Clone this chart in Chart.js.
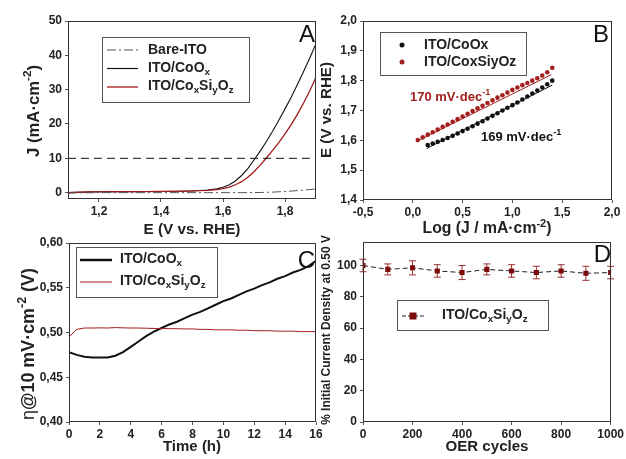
<!DOCTYPE html>
<html>
<head>
<meta charset="utf-8">
<script src="https://cdn.jsdelivr.net/npm/chart.js@4.4.0/dist/chart.umd.min.js"></script>
<style>
  html, body { margin: 0; padding: 0; background: #fff; }
  #wrap { position: relative; width: 626px; height: 459px; }
  #wrap canvas { position: absolute; left: 0; top: 0; }
</style>
</head>
<body>
<div id="wrap">
  <canvas id="chartA" width="626" height="459"></canvas>
  <canvas id="chartB" width="626" height="459"></canvas>
  <canvas id="chartC" width="626" height="459"></canvas>
  <canvas id="chartD" width="626" height="459"></canvas>
</div>
<script>
// ---- Panel A: polarisation curves (J vs E) ----
const potentialE = [1.10, 1.15, 1.20, 1.25, 1.30, 1.35, 1.40, 1.45, 1.50, 1.55, 1.58, 1.60, 1.62, 1.64,
  1.66, 1.68, 1.70, 1.72, 1.74, 1.76, 1.78, 1.80, 1.82, 1.84, 1.86, 1.88, 1.90];
const jCoOx = [0.0, 0.15, 0.25, 0.28, 0.3, 0.32, 0.35, 0.4, 0.5, 0.75, 1.1, 1.6, 2.3, 3.4,
  5.0, 7.0, 9.5, 12.1, 14.9, 17.9, 21.1, 24.4, 27.8, 31.5, 35.3, 39.2, 43.4];
const jCoSiO = [0.0, 0.15, 0.25, 0.28, 0.3, 0.32, 0.35, 0.4, 0.5, 0.65, 0.9, 1.2, 1.6, 2.3,
  3.2, 4.5, 6.1, 8.0, 10.1, 12.3, 14.6, 17.1, 19.8, 22.8, 26.1, 29.7, 33.6];
const jBareITO = [-0.1, -0.05, 0, 0, 0, 0, 0, 0, 0, 0, 0, 0, 0, 0,
  0, 0.01, 0.02, 0.05, 0.1, 0.15, 0.25, 0.35, 0.45, 0.6, 0.75, 0.9, 1.05];
const jRef = 10;
const aXTicks = [1.2, 1.4, 1.6, 1.8];
const aYTicks = [0, 10, 20, 30, 40, 50];

// ---- Panel B: Tafel plots ----
const logJCoOx = [0.15, 0.20, 0.25, 0.30, 0.35, 0.40, 0.45, 0.50, 0.55, 0.60, 0.65, 0.70, 0.75,
  0.80, 0.85, 0.90, 0.95, 1.00, 1.05, 1.10, 1.15, 1.20, 1.25, 1.30, 1.35, 1.40];
const eCoOx = [1.584, 1.589, 1.595, 1.601, 1.608, 1.615, 1.623, 1.631, 1.639, 1.647, 1.656, 1.664, 1.673,
  1.682, 1.691, 1.700, 1.709, 1.718, 1.727, 1.737, 1.747, 1.757, 1.767, 1.777, 1.788, 1.800];
const logJCoSiO = [0.05, 0.10, 0.15, 0.20, 0.25, 0.30, 0.35, 0.40, 0.45, 0.50, 0.55, 0.60, 0.65, 0.70,
  0.75, 0.80, 0.85, 0.90, 0.95, 1.00, 1.05, 1.10, 1.15, 1.20, 1.25, 1.30, 1.35, 1.40];
const eCoSiO = [1.601, 1.610, 1.619, 1.627, 1.636, 1.645, 1.653, 1.662, 1.671, 1.680, 1.689, 1.698, 1.707, 1.716,
  1.725, 1.734, 1.743, 1.751, 1.760, 1.769, 1.777, 1.785, 1.792, 1.800, 1.808, 1.817, 1.828, 1.843];
const fitLogJCoOx = [0.14, 1.40];
const fitECoOx = [1.573, 1.785];
const fitLogJCoSiO = [0.03, 1.39];
const fitECoSiO = [1.595, 1.820];
const bXTicks = [-0.5, 0, 0.5, 1.0, 1.5, 2.0];
const bYTicks = [1.4, 1.5, 1.6, 1.7, 1.8, 1.9, 2.0];

// ---- Panel C: chronopotentiometry ----
const timeH = [0, 0.5, 1, 1.5, 2, 2.5, 3, 3.5, 4, 4.5, 5, 5.5, 6, 6.5, 7, 7.5, 8,
  8.5, 9, 9.5, 10, 10.5, 11, 11.5, 12, 12.5, 13, 13.5, 14, 14.5, 15, 15.5, 16];
const etaCoOx = [0.478, 0.475, 0.473, 0.472, 0.472, 0.472, 0.474, 0.478, 0.484, 0.490, 0.496, 0.501, 0.505,
  0.509, 0.512, 0.516, 0.520, 0.523, 0.527, 0.531, 0.535, 0.538, 0.542, 0.546, 0.549, 0.553,
  0.556, 0.560, 0.563, 0.567, 0.570, 0.574, 0.580];
const etaCoSiO = [0.495, 0.5035, 0.505, 0.505, 0.5052, 0.505, 0.5055, 0.5052, 0.505, 0.505, 0.5048, 0.5045, 0.5045,
  0.5043, 0.5042, 0.504, 0.504, 0.5035, 0.5035, 0.503, 0.503, 0.503, 0.5025, 0.5025, 0.502, 0.502,
  0.502, 0.5015, 0.5015, 0.5015, 0.501, 0.501, 0.501];
const cXTicks = [0, 2, 4, 6, 8, 10, 12, 14, 16];
const cYTicks = [0.40, 0.45, 0.50, 0.55, 0.60];

// ---- Panel D: stability over OER cycles ----
const oerCycles = [0, 100, 200, 300, 400, 500, 600, 700, 800, 900, 1000];
const retention = [100, 97.5, 98.5, 96.5, 95.5, 97.5, 96.5, 95.5, 96.5, 95, 95.5];
const retentionErr = [4, 3.5, 4.5, 4, 4.5, 3.5, 4, 4, 4, 4.5, 4];
const dXTicks = [0, 200, 400, 600, 800, 1000];
const dYTicks = [0, 20, 40, 60, 80, 100];

const FONT = '"Liberation Sans", Arial, sans-serif';
const RED = '#a01c1c';

const pts = (xs, ys) => xs.map((x, i) => ({ x, y: ys[i] }));
const comma = d => v => v.toFixed(d).replace('.', ',');

// linear axis with fixed tick list and fixed thickness
function axis(pos, min, max, vals, fmt, size) {
  return {
    type: 'linear', position: pos, min, max,
    afterBuildTicks: s => { s.ticks = vals.map(v => ({ value: v })); },
    afterFit: s => { if (pos === 'left') s.width = size; else s.height = size; },
    border: { display: false },
    grid: { display: true, drawOnChartArea: false, drawTicks: true, tickLength: 3, color: '#555' },
    ticks: {
      callback: v => fmt(v), color: '#222', padding: pos === 'left' ? 3 : 2, maxRotation: 0, autoSkip: false,
      font: { family: FONT, size: 12, weight: 'bold' }
    }
  };
}

// text with sub/superscripts: parts = [[text, shift, weight?]], shift 1 = sup, -1 = sub
// opt.fit squeezes the font size so the whole string has that length
function rich(ctx, parts, x, y, size, opt = {}) {
  const fnt = (s, wt) => `${wt || opt.weight || 'bold'} ${s}px ${FONT}`;
  const measure = sz => {
    let w = 0;
    parts.forEach(([t, sh, wt]) => { ctx.font = fnt(sh ? sz * 0.7 : sz, wt); w += ctx.measureText(t).width; });
    return w;
  };
  let w = measure(size);
  if (opt.fit) { size = size * opt.fit / w; w = measure(size); }
  ctx.save();
  ctx.fillStyle = opt.color || '#222';
  ctx.textBaseline = 'middle';
  ctx.textAlign = 'left';
  let cx = opt.align === 'left' ? x : x - w / 2;
  let cy = y;
  if (opt.rotate) {
    ctx.translate(x, y);
    ctx.rotate(-Math.PI / 2);
    cx = -w / 2; cy = 0;
  }
  parts.forEach(([t, sh, wt]) => {
    ctx.font = fnt(sh ? size * 0.7 : size, wt);
    const off = sh > 0 ? -size * 0.35 : (sh < 0 ? size * 0.3 : 0);
    ctx.fillText(t, cx, cy + off);
    cx += ctx.measureText(t).width;
  });
  ctx.restore();
}

function frame(chart) {
  const { ctx, chartArea: a } = chart;
  ctx.save();
  ctx.strokeStyle = '#333';
  ctx.lineWidth = 1;
  ctx.strokeRect(Math.round(a.left) + 0.5, Math.round(a.top) + 0.5, Math.round(a.width) - 1, Math.round(a.height) - 1);
  ctx.restore();
}

function panelLetter(ctx, ch, right, base) {
  ctx.save();
  ctx.font = `24px ${FONT}`;
  ctx.fillStyle = '#111';
  ctx.textAlign = 'right';
  ctx.textBaseline = 'alphabetic';
  ctx.fillText(ch, right, base);
  ctx.restore();
}

function box(ctx, x, y, w, h) {
  ctx.save();
  ctx.strokeStyle = '#555';
  ctx.lineWidth = 1;
  ctx.strokeRect(x + 0.5, y + 0.5, w, h);
  ctx.restore();
}

function sample(ctx, x1, x2, y, color, width, dash) {
  ctx.save();
  ctx.strokeStyle = color;
  ctx.lineWidth = width;
  ctx.setLineDash(dash || []);
  ctx.beginPath();
  ctx.moveTo(x1, y); ctx.lineTo(x2, y);
  ctx.stroke();
  ctx.restore();
}

const CO_OX = [['ITO/CoO', 0], ['x', -1]];
const CO_SI_O = [['ITO/Co', 0], ['x', -1], ['Si', 0], ['y', -1], ['O', 0], ['z', -1]];

function baseOptions(pad) {
  return {
    responsive: false,
    animation: false,
    layout: { padding: pad },
    plugins: { legend: { display: false }, tooltip: { enabled: false } },
    elements: { line: { tension: 0 } }
  };
}

// ---------- Panel A ----------
new Chart(document.getElementById('chartA'), {
  type: 'scatter',
  data: {
    datasets: [
      { data: [{ x: 1.1, y: jRef }, { x: 1.9, y: jRef }], showLine: true, borderColor: '#111', borderWidth: 1, borderDash: [8, 5], pointRadius: 0 },
      { data: pts(potentialE, jBareITO), showLine: true, borderColor: '#555', borderWidth: 1, borderDash: [9, 3, 2, 3], pointRadius: 0 },
      { data: pts(potentialE, jCoSiO), showLine: true, borderColor: RED, borderWidth: 1.3, pointRadius: 0 },
      { data: pts(potentialE, jCoOx), showLine: true, borderColor: '#111', borderWidth: 1.1, pointRadius: 0 }
    ]
  },
  options: Object.assign(baseOptions({ left: 28, top: 21, right: 310, bottom: 230 }), {
    scales: {
      x: axis('bottom', 1.1, 1.9, aXTicks, comma(1), 30),
      y: axis('left', -1.85, 50, aYTicks, v => String(v), 40)
    }
  }),
  plugins: [{
    id: 'decorA',
    afterDraw(chart) {
      const ctx = chart.ctx;
      frame(chart);
      panelLetter(ctx, 'A', 315, 42);
      box(ctx, 102, 37, 147, 65);
      sample(ctx, 107, 138, 50, '#555', 1, [9, 3, 2, 3]);
      sample(ctx, 107, 138, 68.5, '#111', 1.2);
      sample(ctx, 107, 138, 87, RED, 1.3);
      rich(ctx, [['Bare-ITO', 0]], 148, 50, 14, { align: 'left' });
      rich(ctx, CO_OX, 148, 68, 14, { align: 'left' });
      rich(ctx, CO_SI_O, 148, 86, 14, { align: 'left' });
      rich(ctx, [['J (mA·cm', 0], ['-2', 1], [')', 0]], 34, 111, 15, { rotate: true, fit: 92 });
      rich(ctx, [['E (V vs. RHE)', 0]], 192, 230, 15, { fit: 97 });
    }
  }]
});

// ---------- Panel B ----------
new Chart(document.getElementById('chartB'), {
  type: 'scatter',
  data: {
    datasets: [
      { data: pts(fitLogJCoOx, fitECoOx), showLine: true, borderColor: '#111', borderWidth: 1, pointRadius: 0 },
      { data: pts(fitLogJCoSiO, fitECoSiO), showLine: true, borderColor: RED, borderWidth: 1, pointRadius: 0 },
      { data: pts(logJCoOx, eCoOx), showLine: false, pointRadius: 2.3, pointBackgroundColor: '#111', pointBorderWidth: 0 },
      { data: pts(logJCoSiO, eCoSiO), showLine: false, pointRadius: 2.3, pointBackgroundColor: '#a3201f', pointBorderWidth: 0 }
    ]
  },
  options: Object.assign(baseOptions({ left: 323, top: 21, right: 14, bottom: 229 }), {
    scales: {
      x: axis('bottom', -0.5, 2.0, bXTicks, comma(1), 30),
      y: axis('left', 1.4, 2.0, bYTicks, comma(1), 40)
    }
  }),
  plugins: [{
    id: 'decorB',
    afterDraw(chart) {
      const ctx = chart.ctx;
      frame(chart);
      panelLetter(ctx, 'B', 609, 42);
      box(ctx, 380, 32, 146, 43);
      ctx.save();
      ctx.fillStyle = '#111';
      ctx.beginPath(); ctx.arc(402, 45, 2.5, 0, Math.PI * 2); ctx.fill();
      ctx.fillStyle = '#a3201f';
      ctx.beginPath(); ctx.arc(402, 62, 2.5, 0, Math.PI * 2); ctx.fill();
      ctx.restore();
      rich(ctx, [['ITO/CoOx', 0]], 424, 45, 14, { align: 'left' });
      rich(ctx, [['ITO/CoxSiyOz', 0]], 424, 62, 14, { align: 'left' });
      rich(ctx, [['170 mV·dec', 0], ['-1', 1]], 410, 97, 13, { align: 'left', color: '#a3201f' });
      rich(ctx, [['169 mV·dec', 0], ['-1', 1]], 481, 137, 13, { align: 'left', color: '#111' });
      rich(ctx, [['E (V vs. RHE)', 0]], 327, 110, 15, { rotate: true, fit: 96 });
      rich(ctx, [['Log (J / mA·cm', 0], ['-2', 1], [')', 0]], 487, 229, 15, { fit: 129 });
    }
  }]
});

// ---------- Panel C ----------
new Chart(document.getElementById('chartC'), {
  type: 'scatter',
  data: {
    datasets: [
      { data: pts(timeH, etaCoSiO), showLine: true, borderColor: RED, borderWidth: 1, pointRadius: 0 },
      { data: pts(timeH, etaCoOx), showLine: true, borderColor: '#111', borderWidth: 2, pointRadius: 0 }
    ]
  },
  options: Object.assign(baseOptions({ left: 29, top: 243, right: 310, bottom: 7 }), {
    scales: {
      x: axis('bottom', 0, 16, cXTicks, v => String(v), 30),
      y: axis('left', 0.40, 0.60, cYTicks, comma(2), 40)
    }
  }),
  plugins: [{
    id: 'decorC',
    afterDraw(chart) {
      const ctx = chart.ctx;
      frame(chart);
      panelLetter(ctx, 'C', 315, 268);
      box(ctx, 76, 247, 141, 50);
      sample(ctx, 80, 112, 260, '#111', 2.5);
      sample(ctx, 80, 112, 282, RED, 1);
      rich(ctx, CO_OX, 120, 259, 14, { align: 'left' });
      rich(ctx, CO_SI_O, 120, 281, 14, { align: 'left' });
      rich(ctx, [['η', 0, 'normal'], ['@10 mV·cm', 0], ['-2', 1], [' (V)', 0]], 29, 344, 15, { rotate: true, fit: 152 });
      rich(ctx, [['Time (h)', 0]], 192, 447, 15);
    }
  }]
});

// ---------- Panel D ----------
const errorBars = {
  id: 'errorBars',
  beforeDatasetsDraw(chart) {
    const { ctx, scales: { x, y } } = chart;
    ctx.save();
    ctx.strokeStyle = '#9a3030';
    ctx.lineWidth = 1;
    oerCycles.forEach((c, i) => {
      const px = x.getPixelForValue(c);
      const top = y.getPixelForValue(retention[i] + retentionErr[i]);
      const bot = y.getPixelForValue(retention[i] - retentionErr[i]);
      ctx.beginPath();
      ctx.moveTo(px, top); ctx.lineTo(px, bot);
      ctx.moveTo(px - 3.5, top); ctx.lineTo(px + 3.5, top);
      ctx.moveTo(px - 3.5, bot); ctx.lineTo(px + 3.5, bot);
      ctx.stroke();
    });
    ctx.restore();
  }
};

new Chart(document.getElementById('chartD'), {
  type: 'scatter',
  data: {
    datasets: [
      { data: pts(oerCycles, retention), showLine: true, borderColor: '#222', borderWidth: 1, borderDash: [5, 3],
        pointStyle: 'rect', pointRadius: 3.6, pointBackgroundColor: '#7d0a0a', pointBorderColor: '#7d0a0a', pointBorderWidth: 0 }
    ]
  },
  options: Object.assign(baseOptions({ left: 323, top: 242, right: 14, bottom: 7 }), {
    scales: {
      x: axis('bottom', 0, 1000, dXTicks, v => String(v), 30),
      y: axis('left', 0, 115, dYTicks, v => String(v), 40)
    }
  }),
  plugins: [errorBars, {
    id: 'decorD',
    afterDraw(chart) {
      const ctx = chart.ctx;
      frame(chart);
      panelLetter(ctx, 'D', 611, 262);
      box(ctx, 397, 300, 151, 30);
      sample(ctx, 402, 424, 316, '#222', 1, [4, 2]);
      ctx.save();
      ctx.fillStyle = '#7d0a0a';
      ctx.fillRect(409.5, 312.5, 7, 7);
      ctx.restore();
      rich(ctx, CO_SI_O, 442, 315, 14, { align: 'left' });
      rich(ctx, [['% Initial Current Density at 0.50 V', 0]], 327, 330, 12, { rotate: true, fit: 190 });
      rich(ctx, [['OER cycles', 0]], 487, 447, 15, { fit: 83 });
    }
  }]
});
</script>
</body>
</html>
